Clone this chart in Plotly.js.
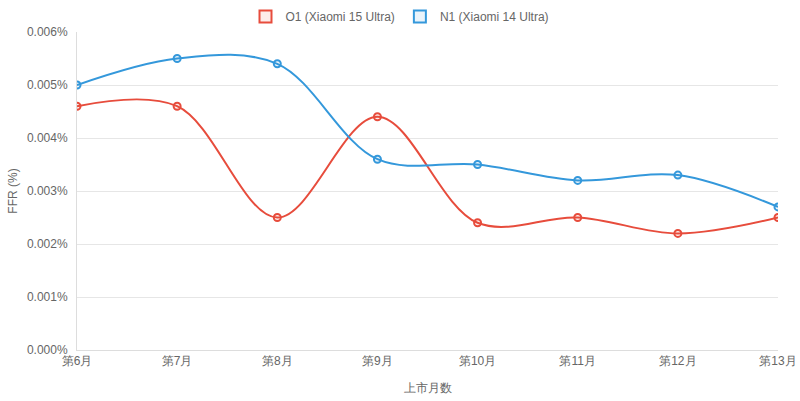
<!DOCTYPE html>
<html>
<head>
<meta charset="utf-8">
<script src="https://cdn.plot.ly/plotly-3.0.1.min.js"></script>
<style>
  html, body { margin: 0; padding: 0; background: #fff; }
  #chart { width: 800px; height: 401px; }
</style>
</head>
<body>
<div id="chart"></div>
<script>
// months since launch
const months = ['第6月', '第7月', '第8月', '第9月', '第10月', '第11月', '第12月', '第13月'];
// FFR in %
const o1 = [0.0046, 0.0046, 0.0025, 0.0044, 0.0024, 0.0025, 0.0022, 0.0025];
const n1 = [0.0050, 0.0055, 0.0054, 0.0036, 0.0035, 0.0032, 0.0033, 0.0027];
const yTicks = [0, 0.001, 0.002, 0.003, 0.004, 0.005, 0.006];
const yLabels = yTicks.map(v => v.toFixed(3) + '%');

function series(name, y, color, tint) {
    return {
        x: months,
        y: y,
        name: name,
        type: 'scatter',
        mode: 'lines+markers',
        showlegend: false,
        legendgroup: name,
        line: { color: color, width: 2, shape: 'spline', smoothing: 1 },
        marker: { size: 7, color: tint, line: { color: color, width: 2 } },
        hovertemplate: '%{y:.3f}%<extra>' + name + '</extra>'
    };
}

// legend-only entry, drawn as a boxed swatch like the original
function legendBox(name, color, tint) {
    return {
        x: [null],
        y: [null],
        name: name,
        type: 'bar',
        legendgroup: name,
        marker: { color: tint, line: { color: color, width: 2 } },
        hoverinfo: 'skip'
    };
}

const data = [
    series('O1 (Xiaomi 15 Ultra)', o1, '#e74c3c', 'rgba(231,76,60,0.1)'),
    series('N1 (Xiaomi 14 Ultra)', n1, '#3498db', 'rgba(52,152,219,0.1)'),
    legendBox('O1 (Xiaomi 15 Ultra)', '#e74c3c', 'rgba(231,76,60,0.1)'),
    legendBox('N1 (Xiaomi 14 Ultra)', '#3498db', 'rgba(52,152,219,0.1)')
];

const layout = {
    width: 800,
    height: 401,
    margin: { l: 77, r: 22, t: 32, b: 51 },
    paper_bgcolor: '#fff',
    plot_bgcolor: '#fff',
    font: { family: 'Liberation Sans, Arial, sans-serif', size: 12, color: '#666' },
    showlegend: true,
    legend: {
        orientation: 'h',
        xref: 'container', yref: 'container',
        x: 0.5, xanchor: 'center',
        y: 0.995, yanchor: 'top',
        font: { size: 12, color: '#666' }
    },
    xaxis: {
        type: 'category',
        range: [0, 7],
        showgrid: false,
        showline: true,
        linecolor: '#ddd',
        ticks: '',
        zeroline: false,
        title: { text: '上市月数', font: { size: 12, color: '#666' }, standoff: 16 }
    },
    yaxis: {
        range: [0, 0.006],
        tickmode: 'array',
        tickvals: yTicks,
        ticktext: yLabels,
        showgrid: true,
        gridcolor: '#e6e6e6',
        showline: true,
        linecolor: '#ddd',
        zeroline: false,
        ticks: 'outside',
        ticklen: 6,
        tickcolor: '#fff',
        title: { text: 'FFR (%)', font: { size: 12, color: '#666' }, standoff: 6 }
    }
};

Plotly.newPlot('chart', data, layout, { displayModeBar: false, responsive: false });
</script>
</body>
</html>
